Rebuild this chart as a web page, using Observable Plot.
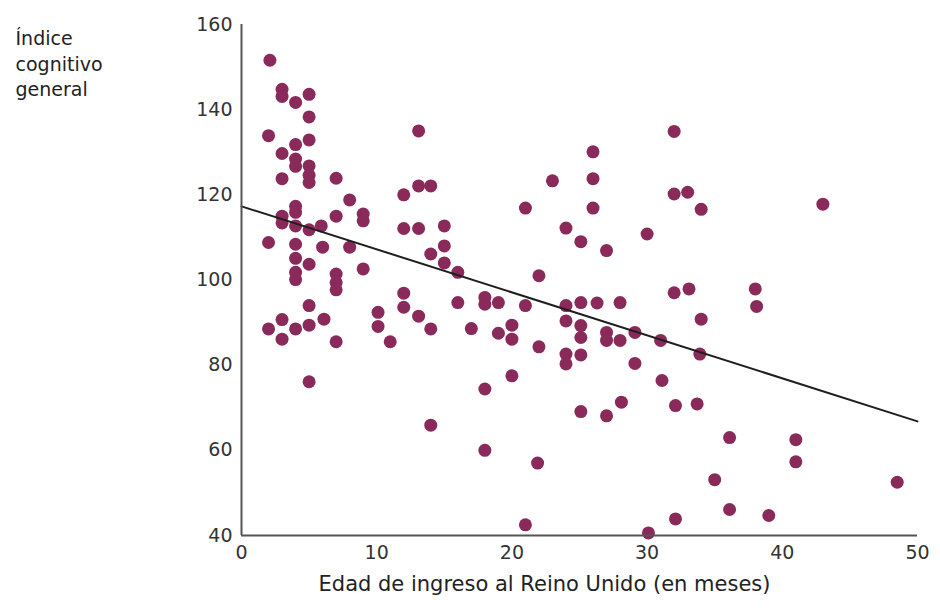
<!DOCTYPE html>
<html>
<head>
<meta charset="utf-8">
<script src="https://cdn.jsdelivr.net/npm/d3@7"></script>
<script src="https://cdn.jsdelivr.net/npm/@observablehq/plot@0.6"></script>
<style>
  html, body { margin: 0; padding: 0; background: #fff; }
  #chart { width: 940px; height: 608px; }
</style>
</head>
<body>
<div id="chart"></div>
<script>
const yLabel = "Índice\ncognitivo\ngeneral";
const xLabel = "Edad de ingreso al Reino Unido (en meses)";
const xTicks = [0, 10, 20, 30, 40, 50];
const yTicks = [40, 60, 80, 100, 120, 140, 160];

const ages = [
  2.1, 3.0, 3.0, 4.0, 5.0, 5.0, 2.0, 13.1, 5.0, 4.0,
  3.0, 4.0, 4.0, 5.0, 5.0, 5.0, 3.0, 7.0, 8.0, 12.0,
  13.1, 14.0, 4.0, 4.0, 3.0, 7.0, 9.0, 3.0, 4.0, 5.0,
  5.9, 9.0, 12.0, 13.1, 15.0, 15.0, 14.0, 15.0, 16.0, 16.0,
  2.0, 4.0, 6.0, 8.0, 4.0, 5.0, 4.0, 4.0, 9.0, 7.0,
  7.0, 7.0, 5.0, 12.0, 12.0, 10.1, 10.1, 13.1, 14.0, 11.0,
  3.0, 2.0, 4.0, 5.0, 6.1, 3.0, 7.0, 5.0, 14.0, 32.0,
  26.0, 26.0, 23.0, 21.0, 26.0, 32.0, 33.0, 34.0, 24.0, 25.1,
  30.0, 27.0, 22.0, 18.0, 18.0, 19.0, 21.0, 24.0, 25.1, 26.3,
  28.0, 24.0, 25.1, 25.1, 27.0, 27.0, 28.0, 29.1, 31.0, 32.0,
  33.1, 34.0, 33.9, 17.0, 19.0, 20.0, 20.0, 22.0, 24.0, 24.0,
  25.1, 29.1, 20.0, 18.0, 31.1, 25.1, 27.0, 28.1, 32.1, 33.7,
  18.0, 21.9, 21.0, 30.1, 32.1, 43.0, 38.0, 38.1, 36.1, 41.0,
  41.0, 35.0, 48.5, 36.1, 39.0
];
const scores = [
  151.6, 144.8, 143.1, 141.7, 143.6, 138.3, 133.9, 135.0, 132.9, 131.8,
  129.7, 128.4, 126.7, 126.8, 124.6, 122.9, 123.8, 123.9, 118.8, 120.0,
  122.1, 122.1, 117.3, 115.9, 115.0, 115.0, 115.5, 113.4, 112.7, 111.8,
  112.7, 113.9, 112.1, 112.1, 112.7, 108.0, 106.1, 104.0, 101.8, 94.7,
  108.8, 108.4, 107.7, 107.7, 105.1, 103.7, 101.8, 100.1, 102.6, 101.4,
  99.4, 97.7, 94.0, 96.9, 93.6, 92.4, 89.1, 91.5, 88.5, 85.5,
  90.7, 88.5, 88.5, 89.4, 90.8, 86.1, 85.5, 76.1, 65.9, 134.9,
  130.1, 123.8, 123.3, 116.9, 116.9, 120.2, 120.6, 116.6, 112.2, 109.0,
  110.8, 106.9, 101.0, 95.9, 94.3, 94.7, 94.0, 94.0, 94.7, 94.6,
  94.7, 90.4, 89.3, 86.5, 87.7, 85.8, 85.8, 87.7, 85.8, 97.0,
  97.9, 90.8, 82.6, 88.6, 87.5, 89.4, 86.1, 84.3, 82.6, 80.3,
  82.4, 80.4, 77.5, 74.4, 76.4, 69.1, 68.1, 71.3, 70.5, 70.9,
  60.0, 57.0, 42.5, 40.6, 43.9, 117.8, 97.9, 93.8, 63.0, 62.5,
  57.3, 53.1, 52.5, 46.1, 44.7
];
const trendX = [0, 50];
const trendY = [117.3, 66.8];

const points = ages.map((a, i) => ({age: a, score: scores[i]}));
const trend = trendX.map((x, i) => ({x, y: trendY[i]}));

const chart = Plot.plot({
  width: 940,
  height: 608,
  marginLeft: 241,
  marginRight: 23,
  marginTop: 24,
  marginBottom: 73,
  style: {fontFamily: "DejaVu Sans, sans-serif", fontSize: "19px", color: "#333", background: "#fff"},
  x: {domain: [0, 50], ticks: xTicks, tickSize: 0, tickPadding: 10, label: null},
  y: {domain: [40, 160], ticks: yTicks, tickSize: 0, tickPadding: 9, label: null},
  marks: [
    Plot.dot(points, {x: "age", y: "score", r: 6.5, fill: "#8a2a5a", stroke: "none"}),
    Plot.line(trend, {x: "x", y: "y", stroke: "#1e1e1e", strokeWidth: 2}),
    Plot.ruleX([0], {y1: 40, y2: 160, stroke: "#555", strokeWidth: 2}),
    Plot.ruleY([40], {x1: 0, x2: 50, stroke: "#555", strokeWidth: 2}),
    Plot.text([xLabel], {frameAnchor: "bottom", dx: -35, dy: 55, fontSize: 21, fill: "#222"}),
    Plot.text([yLabel], {frameAnchor: "top-left", dx: -226, dy: 38, textAnchor: "start", lineAnchor: "middle", lineHeight: 1.35, fontSize: 19, fill: "#222"})
  ]
});
document.getElementById("chart").appendChild(chart);
</script>
</body>
</html>
